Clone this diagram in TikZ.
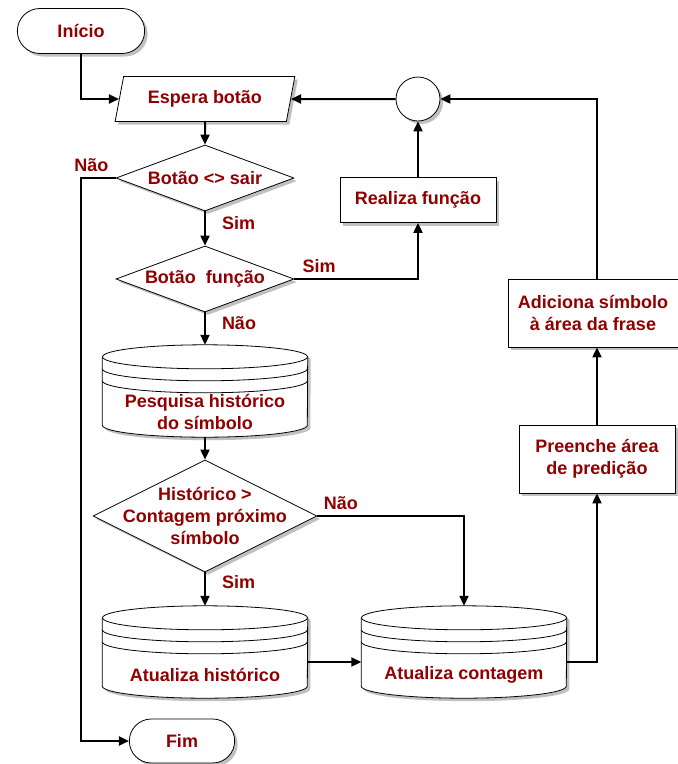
\documentclass[tikz,border=0pt]{standalone}
\usepackage{fontspec}
\setmainfont{Liberation Sans}
\usetikzlibrary{arrows.meta,positioning,calc,shapes.geometric,shapes.misc,shadows,backgrounds}
\definecolor{txtred}{RGB}{145,0,0}
\definecolor{shadowgray}{RGB}{192,192,192}

\begin{document}
\begin{tikzpicture}[x=1pt, y=1pt,
  every node/.style={font=\fontsize{18}{22}\selectfont\bfseries, text=txtred},
  dropsh/.style={drop shadow={shadow xshift=3pt, shadow yshift=-3pt, fill=shadowgray, opacity=1}},
  term/.style={rounded rectangle, draw, line width=0.8pt, fill=white, dropsh, minimum width=134pt, minimum height=45pt},
  io/.style={trapezium, trapezium left angle=75, trapezium right angle=105, trapezium stretches=true,
    draw, line width=0.8pt, fill=white, dropsh, minimum width=180pt, minimum height=45pt},
  decision/.style={diamond, draw, line width=0.8pt, fill=white, dropsh, inner sep=0pt},
  process/.style={rectangle, draw, line width=0.8pt, fill=white, dropsh, align=center, minimum height=45pt},
  junction/.style={circle, draw, line width=0.8pt, fill=white, dropsh, minimum size=44pt, inner sep=0pt},
  disk/.style={rectangle, minimum width=205pt, minimum height=92pt, inner sep=0pt},
  answer/.style={inner sep=2pt},
  flow/.style={line width=2pt, -{Triangle[length=10pt,width=9pt]}}
]
\useasboundingbox (0,0) rectangle (678,-764);

% left column
\node[term] (start) at (81,-31) {Início};
\node[io] (espera) at (205,-99) {Espera botão};
\node[decision, minimum width=178pt, minimum height=66pt, label=center:Botão <> sair] (sair) at (205,-178) {};
\node[decision, minimum width=178pt, minimum height=66pt, label=center:Botão\ \ função] (funcao) at (205,-279) {};
\node[disk, label={[align=center, yshift=-21pt]center:Pesquisa histórico\\do símbolo}] (pesq) at (205,-391) {};
\node[decision, minimum width=224pt, minimum height=112pt,
  label={[align=center]center:Histórico >\\Contagem próximo\\símbolo}] (hist) at (205,-516) {};
\node[disk, label={[yshift=-23pt]center:Atualiza histórico}] (athist) at (205,-652) {};
\node[term, minimum width=112pt, minimum height=44pt] (fim) at (182,-741) {Fim};
\coordinate (exitL) at (81,-178);

% right part
\node[junction] (junc) at (418,-99) {};
\node[process, minimum width=156pt] (realiza) at (418,-200) {Realiza função};
\node[process, minimum width=170pt, minimum height=68pt] (adiciona) at (593,-313) {Adiciona símbolo\\à área da frase};
\node[process, minimum width=156pt, minimum height=68pt] (preenche) at (597,-459) {Preenche área\\de predição};
\node[disk, label={[yshift=-23pt]center:Atualiza contagem}] (atcont) at (464,-652) {};

% cylinders
\begin{scope}[on background layer]
\foreach \cyl in {pesq,athist,atcont}{
  \foreach \s/\c in {3/shadowgray,0/white}
    \fill[\c] ([shift={(\s,-\s-12)}]\cyl.north west) -- ([shift={(\s,-\s+12)}]\cyl.south west)
      arc[start angle=180, end angle=360, x radius=102.5, y radius=12]
      -- ([shift={(\s,-\s-12)}]\cyl.north east)
      arc[start angle=0, end angle=180, x radius=102.5, y radius=12] -- cycle;
  \draw[line width=0.8pt] ([yshift=-12pt]\cyl.north west) -- ([yshift=12pt]\cyl.south west)
    arc[start angle=180, end angle=360, x radius=102.5, y radius=12] -- ([yshift=-12pt]\cyl.north east);
  \draw[line width=0.8pt] ([yshift=-12pt]\cyl.north) ellipse[x radius=102.5, y radius=12];
  \foreach \k in {24,36}
    \draw[line width=0.8pt] ([yshift=-\k pt]\cyl.north west) arc[start angle=180, end angle=360, x radius=102.5, y radius=12];
}
\end{scope}

% connectors
\draw[flow] (start) |- (espera);
\draw[flow] (junc) -- (espera);
\draw[flow] (espera) -- (sair);
\draw[flow] (sair.west) -- node[answer, pos=0.7, above=3pt]{Não} (exitL) |- (fim);
\draw[flow] (sair) -- node[answer, pos=0.35, right=14pt]{Sim} (funcao);
\draw[flow] (funcao.east) -| node[answer, pos=0.1, above=3pt]{Sim} (realiza);
\draw[flow] (realiza) -- (junc);
\draw[flow] (funcao) -- node[answer, pos=0.34, right=14pt]{Não} (pesq);
\draw[flow] (pesq) -- (hist);
\draw[flow] (hist.east) -| node[answer, pos=0.08, above=3pt]{Não} (atcont);
\draw[flow] (hist) -- node[answer, pos=0.3, right=14pt]{Sim} (athist);
\draw[flow] ([yshift=-10pt]athist.east) -- ([yshift=-10pt]atcont.west);
\draw[flow] ([yshift=-10pt]atcont.east) -| (preenche);
\draw[flow] (preenche) -- (preenche |- adiciona.south);
\draw[flow] (preenche |- adiciona.north) |- (junc);
\end{tikzpicture}
\end{document}
